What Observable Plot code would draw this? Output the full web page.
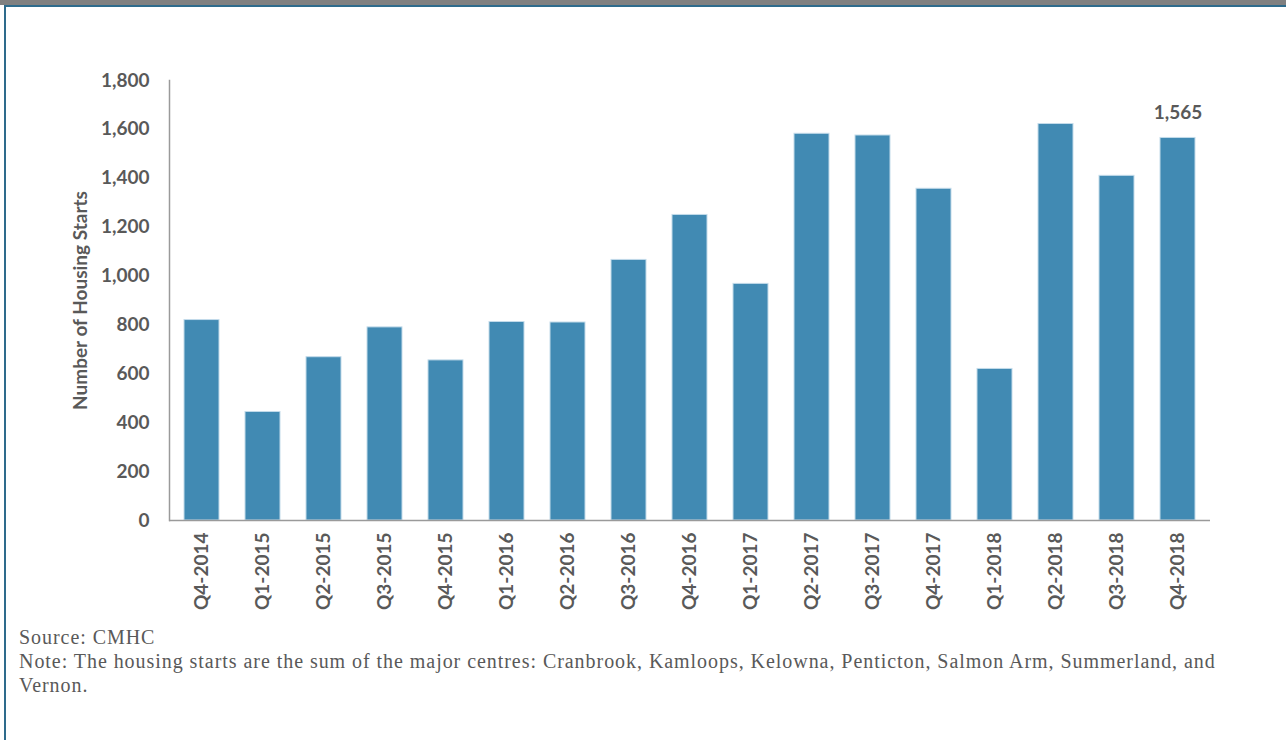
<!DOCTYPE html>
<html><head><meta charset="utf-8">
<script src="https://cdn.jsdelivr.net/npm/d3@7"></script>
<script src="https://cdn.jsdelivr.net/npm/@observablehq/plot@0.6"></script>
<style>
body{margin:0;background:#fff;}
#wrap{position:relative;width:1286px;height:740px;overflow:hidden;background:#fff;}
#topbar{position:absolute;left:0;top:0;width:1286px;height:5px;background:#808080;}
#topline{position:absolute;left:4px;top:5px;width:1282px;height:2px;background:#2e6b8c;}
#leftline{position:absolute;left:4px;top:5px;width:2px;height:735px;background:#2e6b8c;}
#chart{position:absolute;left:0;top:0;}
#caption{position:absolute;left:19px;top:625px;font-family:"Liberation Serif",serif;font-size:20px;letter-spacing:0.95px;color:#595959;line-height:24px;white-space:nowrap;}
</style></head>
<body>
<div id="wrap">
  <div id="topbar"></div><div id="topline"></div><div id="leftline"></div>
  <div id="chart"></div>
  <div id="caption"></div>
</div>
<script>
const quarters = ["Q4-2014","Q1-2015","Q2-2015","Q3-2015","Q4-2015","Q1-2016","Q2-2016","Q3-2016","Q4-2016","Q1-2017","Q2-2017","Q3-2017","Q4-2017","Q1-2018","Q2-2018","Q3-2018","Q4-2018"];
const starts = [820, 444, 668, 790, 655, 812, 810, 1066, 1250, 968, 1582, 1575, 1357, 620, 1622, 1410, 1565];
const yTicks = [0, 200, 400, 600, 800, 1000, 1200, 1400, 1600, 1800];
const annotatedQuarters = ["Q4-2018"];
const yTitle = "Number of Housing Starts";
const captionLines = [
  "Source: CMHC",
  "Note: The housing starts are the sum of the major centres: Cranbrook, Kamloops, Kelowna, Penticton, Salmon Arm, Summerland, and",
  "Vernon."
];

const data = quarters.map((q, i) => ({quarter: q, starts: starts[i]}));
const annotated = data.filter(d => annotatedQuarters.includes(d.quarter));
const grey = "#595959";
const axisGrey = "#9a9a9a";
const fmt = d3.format(",");

const chart = Plot.plot({
  width: 1286,
  height: 625,
  marginLeft: 169,
  marginRight: 76,
  marginTop: 80,
  marginBottom: 105,
  style: {fontFamily: "Lato, sans-serif", fontWeight: 700, fontSize: "19px", color: grey, background: "transparent"},
  x: {type: "band", domain: quarters, paddingInner: 0.43, paddingOuter: 0.215, label: null},
  y: {domain: [0, 1800], label: null},
  marks: [
    Plot.barY(data, {x: "quarter", y: "starts", fill: "#418AB3", stroke: "#c3dbea", strokeWidth: 1}),
    Plot.frame({anchor: "left", stroke: axisGrey, strokeWidth: 1.5}),
    Plot.ruleY([0], {stroke: axisGrey, strokeWidth: 1.5}),
    Plot.axisY({ticks: yTicks, tickSize: 0, tickPadding: 20, tickFormat: fmt, label: null, fill: grey, fontSize: 19}),
    Plot.axisX({tickRotate: -90, tickSize: 0, tickPadding: 12, label: null, fill: grey, fontSize: 19}),
    Plot.text([yTitle], {frameAnchor: "left", textAnchor: "middle", text: d => d, rotate: -90, dx: -89, fill: grey, fontSize: 19, fontWeight: 700}),
    Plot.text(annotated, {x: "quarter", y: "starts", text: d => fmt(d.starts), dy: -25, fill: grey, fontSize: 19, fontWeight: 700})
  ]
});
document.getElementById("chart").appendChild(chart);
const cap = document.getElementById("caption");
captionLines.forEach(l => { const div = document.createElement("div"); div.textContent = l; cap.appendChild(div); });
</script>
</body></html>
